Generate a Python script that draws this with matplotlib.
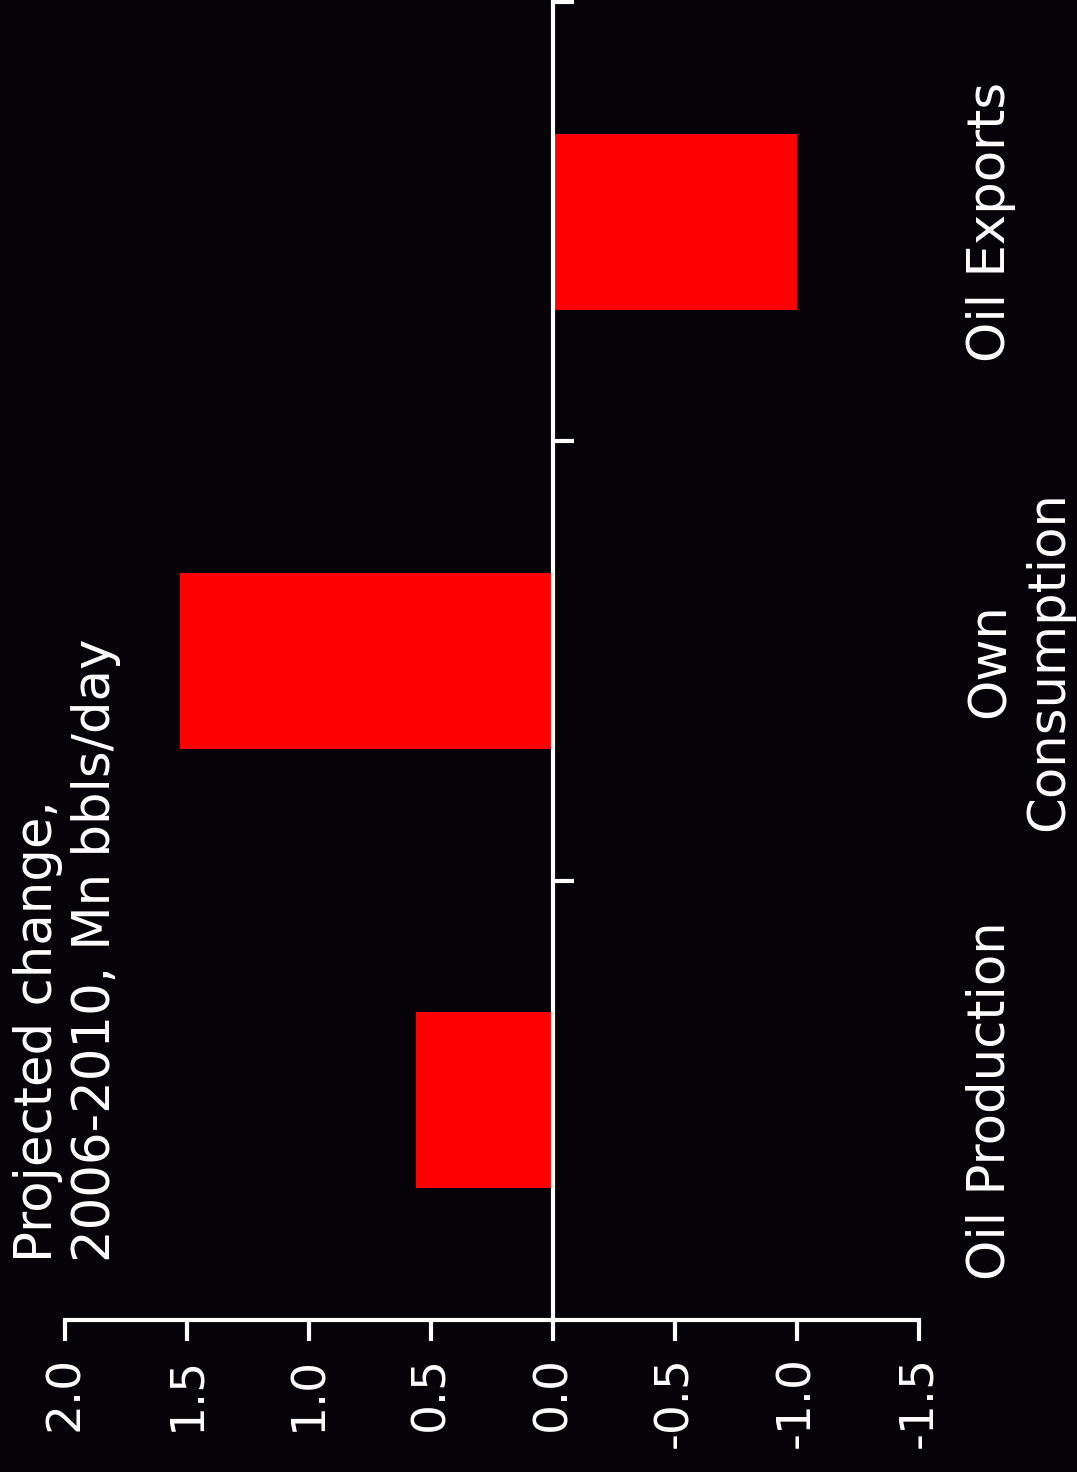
import numpy as np
import matplotlib.pyplot as plt

# data (chart is drawn rotated: value axis runs horizontally, reversed)
categories = ['Oil Production', 'Own\nConsumption', 'Oil Exports']
changes = [0.56, 1.53, -1.0]
tick_values = [2.0, 1.5, 1.0, 0.5, 0.0, -0.5, -1.0, -1.5]
tick_labels = ['2.0', '1.5', '1.0', '0.5', '0.0', '-0.5', '-1.0', '-1.5']
ylabel = 'Projected change,\n2006-2010, Mn bbls/day'

BG = '#050308'
FG = 'white'
W, H = 1077, 1472

plt.rcParams['font.family'] = ['DejaVu Sans']

fig = plt.figure(figsize=(W / 100, H / 100), dpi=100, facecolor=BG)
ax = fig.add_axes([65 / W, 1 - 1320 / H, (919 - 65) / W, (1320 - 2) / H])
ax.set_facecolor(BG)

pos = np.arange(len(categories))
ax.barh(pos, changes, height=0.4, color='#ff0000')

ax.set_xlim(2.0, -1.5)
ax.set_ylim(-0.5, len(categories) - 0.5)

for s in ['top', 'right']:
    ax.spines[s].set_visible(False)
ax.spines['left'].set_position(('data', 0))
for s in ['left', 'bottom']:
    ax.spines[s].set_color(FG)
    ax.spines[s].set_linewidth(3)

ax.set_xticks(tick_values)
ax.set_xticklabels(tick_labels, rotation=90, fontsize=34, color=FG, va='top')
ax.tick_params(axis='x', direction='out', length=15, width=3, color=FG, pad=11)

ax.set_yticks(pos + 0.5)
ax.set_yticklabels([])
ax.tick_params(axis='y', direction='in', length=15, width=3, color=FG)

# category labels, to the right of the plot, rotated
trans = ax.get_yaxis_transform()
for p, c in zip(pos, categories):
    ax.text(1.055, p, c, transform=trans, rotation=90, ha='left', va='center',
            fontsize=37, color=FG, multialignment='center', clip_on=False)

fig.text(13 / W, 1 - 1262 / H, ylabel, rotation=90, ha='left', va='bottom',
         fontsize=37, color=FG, multialignment='left')

fig.savefig('out.png', dpi=100, facecolor=BG)
